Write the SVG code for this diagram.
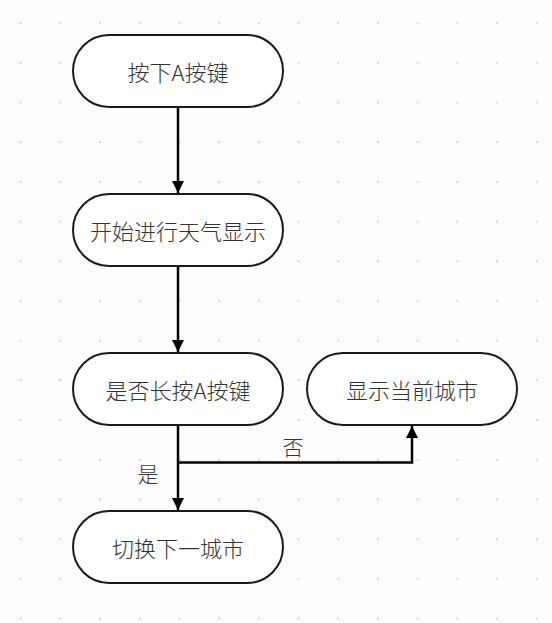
<svg xmlns="http://www.w3.org/2000/svg" width="552" height="623" viewBox="0 0 552 623">
<defs>
<pattern id="grid" x="0.7" y="3" width="39.7" height="39.7" patternUnits="userSpaceOnUse">
<circle cx="20" cy="20" r="1" fill="#c8c8c8"/>
</pattern>
<marker id="arrow" viewBox="0 0 12 12" refX="12" refY="6" markerWidth="12" markerHeight="12" markerUnits="userSpaceOnUse" orient="auto">
<path d="M0,0 L12,6 L0,12 Z" fill="#000"/>
</marker>
</defs>
<style>
.node rect{fill:#fff;stroke:#1a1a1a;stroke-width:2}
.node text{font-family:"Noto Sans CJK SC","Noto Sans",sans-serif;font-size:22px;font-weight:300;fill:#333;text-anchor:middle;dominant-baseline:central}
.edge{fill:none;stroke:#000;stroke-width:2.5}
.lbl{font-family:"Noto Sans CJK SC","Noto Sans",sans-serif;font-size:21px;font-weight:300;fill:#333;text-anchor:middle;dominant-baseline:central}
</style>
<rect width="552" height="623" fill="#fdfdfd"/>
<rect width="552" height="623" fill="url(#grid)"/>
<g id="connectors">
<path class="edge" d="M178,107 V193" marker-end="url(#arrow)"/>
<path class="edge" d="M178,266 V352" marker-end="url(#arrow)"/>
<path class="edge" d="M178,425 V510" marker-end="url(#arrow)"/>
<path class="edge" d="M178,462.5 H412 V426" marker-end="url(#arrow)"/>
<text class="lbl" x="293" y="446">否</text>
<text class="lbl" x="148" y="473">是</text>
</g>
<g id="n1" class="node"><rect x="73" y="35" width="210" height="72" rx="36"/><text x="178" y="71">按下A按键</text></g>
<g id="n2" class="node"><rect x="73" y="194" width="210" height="72" rx="36"/><text x="178" y="230">开始进行天气显示</text></g>
<g id="n3" class="node"><rect x="73" y="353" width="210" height="72" rx="36"/><text x="178" y="389">是否长按A按键</text></g>
<g id="n4" class="node"><rect x="307" y="353" width="210" height="72" rx="36"/><text x="412" y="389">显示当前城市</text></g>
<g id="n5" class="node"><rect x="73" y="511" width="210" height="72" rx="36"/><text x="178" y="547">切换下一城市</text></g>
</svg>
